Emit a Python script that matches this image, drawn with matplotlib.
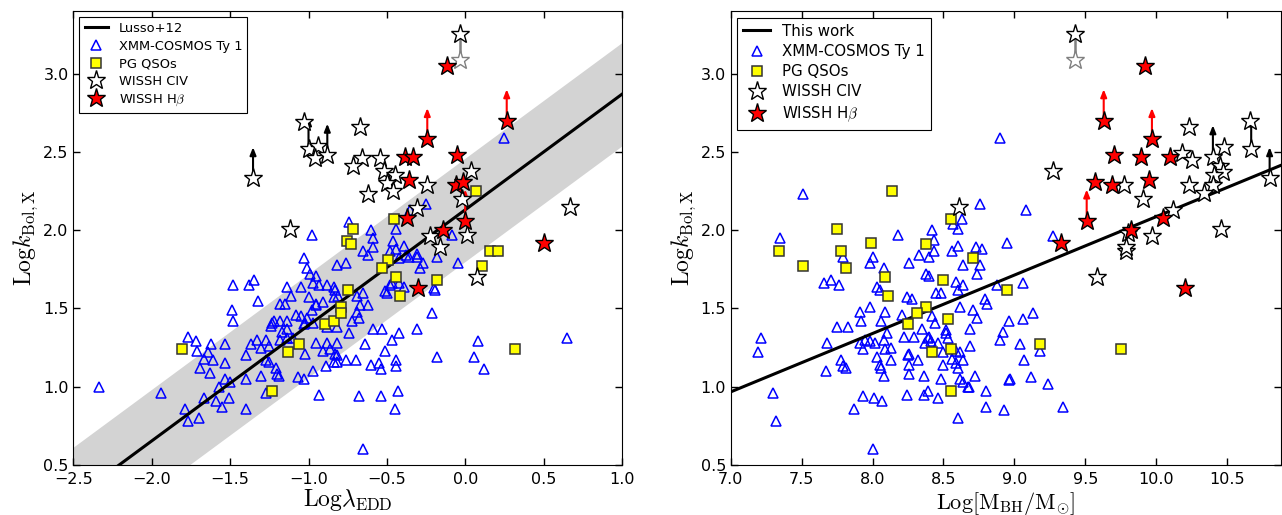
import numpy as np
import matplotlib
matplotlib.use("Agg")
import matplotlib.pyplot as plt

plt.rcParams['mathtext.fontset'] = 'cm'

# ---------------- left panel: Log lambda_EDD ----------------
cosmos_ledd = [-2.34, -1.94, -1.79, -1.77, -1.70, -1.77, -1.72, -1.71, -1.67, -1.69,
               -1.63, -1.62, -1.64, -1.61, -1.67, -1.59, -1.55, -1.57, -1.51, -1.53,
               -1.53, -1.53, -1.50, -1.49, -1.48, -1.48, -1.40, -1.40, -1.40, -1.37,
               -1.38, -1.35, -1.32, -1.33, -1.30, -1.27, -1.30, -1.27, -1.25, -1.25,
               -1.23, -1.21, -1.20, -1.19, -1.18, -1.17, -1.15, -1.14, -1.14, -1.14,
               -1.18, -1.10, -1.08, -1.07, -1.05, -1.03, -1.02, -1.02, -1.01, -1.00,
               -1.03, -1.01, -0.99, -0.95, -0.97, -0.98, -0.95, -0.91, -0.97, -0.95,
               -0.91, -0.89, -0.93, -0.88, -0.82, -0.88, -0.82, -0.86, -0.84, -0.83,
               -0.82, -0.84, -0.88, -0.82, -0.82, -0.76, -0.76,
               -0.81, -0.65, -0.50, -0.19, -0.67, -0.62, -0.69, -0.68, -0.72, -0.74,
               -0.83, -0.84, -0.70, -0.60, -0.55, -0.54, -0.44, -0.44, -0.64, -0.51,
               -0.47, -0.42, -0.59, -0.53, -0.31, -0.21, -0.18, -0.68, -0.54, -0.43,
               -0.45, -0.044, -0.20, 0.084, 0.056, 0.12, 0.65, -0.65, -0.27, -0.31,
               -0.42, -0.39, -0.47, -0.51, -0.69, -0.086, -0.25, -0.44, -0.60, -0.59,
               -0.74, -0.46, -0.39, -0.65, -0.59, -0.62, -0.48, -0.44, -0.38, -0.36,
               -0.31, -0.42, -0.18, -0.29, -0.48, -0.98, -0.93, -1.11, -0.95, -1.22,
               -1.18, -1.14, -1.24, -1.05, -1.03, -0.97, 0.25, -0.35, -1.27]
cosmos_kbol_l = [1.00, 0.96, 0.86, 0.78, 0.80, 1.32, 1.29, 1.23, 1.18, 1.12,
                 1.09, 1.27, 1.22, 1.17, 0.93, 0.91, 0.87, 1.00, 0.93, 1.27,
                 1.15, 1.05, 1.03, 1.49, 1.42, 1.65, 0.86, 1.05, 1.20, 1.27,
                 1.65, 1.68, 1.55, 1.30, 1.25, 1.30, 1.07, 0.96, 1.26, 1.16,
                 1.41, 1.12, 1.08, 1.07, 1.30, 1.35, 1.53, 1.64, 1.37, 1.31,
                 1.53, 1.31, 1.46, 1.06, 1.64, 1.05, 1.21, 1.41, 1.44, 1.57,
                 1.82, 1.76, 1.72, 1.71, 1.66, 1.49, 1.53, 1.54, 1.10, 1.28,
                 1.23, 1.13, 0.95, 1.28, 1.28, 1.38, 1.38, 1.24, 1.64, 1.62,
                 1.78, 1.57, 1.65, 1.20, 1.16, 1.17, 1.79,
                 1.58, 1.60, 1.60, 1.62, 1.52, 1.52, 1.48, 1.44, 1.42, 1.34,
                 1.21, 1.16, 1.17, 1.14, 1.15, 1.11, 1.17, 1.13, 1.27, 1.23,
                 1.30, 1.34, 1.37, 1.37, 1.37, 1.47, 1.19, 0.94, 0.94, 0.97,
                 0.86, 1.79, 1.63, 1.29, 1.19, 1.11, 1.31, 0.60, 1.79, 1.85,
                 1.66, 1.64, 1.66, 1.61, 1.58, 1.97, 2.17, 2.01, 2.00, 1.95,
                 2.05, 1.93, 1.90, 1.87, 1.89, 1.84, 1.87, 1.88, 1.84, 1.83,
                 1.83, 1.82, 1.83, 1.76, 1.65, 1.97, 1.65, 1.58, 1.52, 1.42,
                 1.42, 1.42, 1.39, 1.45, 1.40, 1.41, 2.59, 2.13, 1.17]

pg_ledd = [-1.81, -1.235, -1.13, -1.06, -0.895, -0.84, -0.794, -0.794, -0.745, -0.454,
           -0.714, -0.752, -0.73, -0.49, -0.53, -0.44, -0.177, -0.416, 0.07, 0.159,
           0.21, 0.11, 0.318]
pg_kbol_l = [1.24, 0.97, 1.22, 1.27, 1.40, 1.42, 1.51, 1.47, 1.62, 2.07,
             2.01, 1.93, 1.91, 1.81, 1.76, 1.70, 1.68, 1.58, 2.25, 1.87,
             1.87, 1.77, 1.244]

civ_ledd = [-1.354, -1.12, -1.03, -1.00, -0.94, -0.96, -0.88, -0.67, -0.66, -0.716,
            -0.543, -0.52, -0.45, -0.50, -0.46, -0.62, -0.245, -0.31, 0.04, -0.02,
            -0.225, -0.16, 0.01, 0.67, -0.033, 0.074]
civ_kbol_l = [2.33, 2.01, 2.69, 2.52, 2.54, 2.46, 2.48, 2.66, 2.46, 2.41,
              2.46, 2.38, 2.35, 2.30, 2.25, 2.23, 2.29, 2.14, 2.38, 2.20,
              1.96, 1.89, 1.97, 2.15, 3.25, 1.70]
civ_lim_l = [1, 0, 0, 1, 0, 0, 1, 0, 0, 0,
             0, 0, 0, 0, 0, 0, 0, 0, 0, 0,
             0, 0, 0, 0, 0, 0]

hb_ledd = [-0.118, -0.242, 0.265, -0.054, -0.384, -0.33, -0.36, -0.058, -0.012, 0.0,
           -0.373, -0.14, 0.50, -0.30]
hb_kbol_l = [3.05, 2.58, 2.70, 2.48, 2.47, 2.47, 2.32, 2.29, 2.31, 2.06,
             2.08, 2.00, 1.92, 1.63]
hb_lim_l = [0, 1, 1, 0, 0, 0, 0, 0, 0, 1,
            0, 0, 0, 0]

# previous estimate for the same CIV source (grey)
old_ledd = [-0.033]
old_kbol_l = [3.09]

lusso_slope, lusso_icpt, lusso_scatter = 0.738, 2.13, 0.33

# ---------------- right panel: Log M_BH ----------------
cosmos_mbh = [8.90, 7.51, 8.76, 7.35, 8.18, 8.42, 8.43, 8.63, 8.57, 8.60,
              8.95, 8.43, 8.60, 8.73, 8.77, 8.56, 8.33, 8.00, 7.79, 7.21,
              7.19, 7.30, 7.32, 7.68, 7.67, 7.71, 7.76, 7.66, 7.75, 7.83,
              7.78, 7.79, 7.81, 7.87, 7.93, 8.01, 8.07, 8.00, 7.91, 7.92,
              7.98, 7.91, 7.93, 7.95, 7.98, 8.02, 8.03, 8.05, 8.08, 7.98,
              8.06, 8.09, 8.10, 8.08, 8.03, 8.05, 8.06, 8.08, 8.09, 8.13,
              8.13, 8.24, 8.28, 8.21, 8.22, 8.24, 8.25, 8.26, 8.26, 8.26,
              8.29, 8.32, 8.26, 8.35, 8.39, 8.40, 8.37, 8.41, 8.38, 8.40,
              8.42, 8.44, 8.45, 8.48, 8.46, 8.50, 8.50, 8.48, 8.36, 8.39,
              8.36, 8.46, 8.52, 8.52, 8.53, 8.56, 8.59, 8.60, 8.59, 8.62,
              8.64, 8.62, 8.64, 8.67, 8.59, 8.60, 8.64, 8.62, 8.60, 8.69,
              8.71, 8.74, 8.69, 8.72, 8.68, 8.74, 8.76, 8.79, 8.81, 8.80,
              8.80, 8.88, 8.90, 8.92, 8.93, 8.96, 8.96, 8.64, 8.40, 9.06,
              9.06, 9.13, 9.04, 9.18, 9.07, 8.97, 9.12, 9.24, 9.34, 9.08,
              9.27]
cosmos_kbol_r = [2.59, 2.23, 2.17, 1.95, 1.97, 2.00, 1.94, 2.07, 2.04, 2.01,
                 1.92, 1.87, 1.90, 1.89, 1.88, 1.87, 1.84, 1.83, 1.83, 1.31,
                 1.22, 0.96, 0.78, 1.28, 1.10, 1.68, 1.65, 1.66, 1.38, 1.38,
                 1.17, 1.13, 1.12, 0.86, 0.94, 0.93, 0.91, 0.60, 1.48, 1.42,
                 1.51, 1.28, 1.24, 1.30, 1.29, 1.28, 1.64, 1.62, 1.76, 1.79,
                 1.42, 1.48, 1.34, 1.30, 1.19, 1.14, 1.12, 1.07, 1.24, 1.25,
                 1.17, 1.57, 1.56, 1.46, 1.32, 0.95, 1.20, 1.21, 1.14, 1.08,
                 1.32, 1.17, 1.79, 1.37, 1.31, 1.32, 1.28, 1.29, 1.72, 1.71,
                 1.45, 1.41, 1.60, 1.60, 1.28, 1.22, 1.14, 1.05, 1.07, 0.97,
                 0.95, 0.93, 1.36, 1.34, 1.31, 1.18, 1.15, 1.12, 1.23, 1.22,
                 1.17, 1.05, 1.03, 1.00, 1.67, 1.62, 1.65, 1.51, 0.80, 1.26,
                 1.49, 1.44, 1.37, 1.07, 1.00, 1.72, 1.78, 1.56, 1.53, 0.97,
                 0.87, 1.65, 1.30, 1.35, 0.85, 1.42, 1.04, 1.78, 1.83, 1.66,
                 1.43, 1.47, 1.27, 1.23, 1.17, 1.05, 1.06, 1.02, 0.87, 2.13,
                 1.96]

pg_mbh = [8.14, 7.75, 7.34, 7.78, 7.99, 8.38, 8.55, 8.71, 7.51, 7.81,
          8.09, 8.11, 8.50, 8.38, 8.31, 8.25, 8.53, 8.42, 8.55, 8.55,
          8.95, 9.18, 9.75]
pg_kbol_r = [2.25, 2.01, 1.87, 1.87, 1.92, 1.91, 2.07, 1.82, 1.77, 1.76,
             1.70, 1.58, 1.68, 1.51, 1.47, 1.40, 1.43, 1.22, 1.24, 0.97,
             1.62, 1.27, 1.24]

civ_mbh = [9.43, 8.61, 9.58, 9.79, 9.27, 9.77, 9.91, 10.12, 10.23, 10.18,
           10.25, 10.40, 10.48, 10.45, 10.47, 10.41, 10.40, 10.34, 10.23, 10.66,
           10.67, 10.80, 10.46, 9.97, 9.79, 9.80]
civ_kbol_r = [3.25, 2.15, 1.70, 1.87, 2.38, 2.29, 2.20, 2.13, 2.66, 2.49,
              2.45, 2.47, 2.53, 2.41, 2.37, 2.35, 2.29, 2.24, 2.29, 2.70,
              2.52, 2.33, 2.01, 1.96, 1.89, 1.98]
civ_lim_r = [0, 0, 0, 0, 0, 0, 0, 0, 0, 0,
             0, 1, 0, 0, 0, 0, 0, 0, 0, 0,
             1, 1, 0, 0, 0, 0]

hb_mbh = [9.92, 9.63, 9.97, 9.70, 9.89, 10.10, 9.57, 9.69, 9.95, 9.51,
          9.82, 10.05, 9.33, 10.20]
hb_kbol_r = [3.05, 2.70, 2.58, 2.48, 2.47, 2.47, 2.31, 2.29, 2.32, 2.06,
             2.00, 2.08, 1.92, 1.63]
hb_lim_r = [0, 1, 1, 0, 0, 0, 0, 0, 0, 1,
            0, 0, 0, 0]

old_mbh = [9.43]
old_kbol_r = [3.09]

work_slope, work_icpt = 0.373, -1.644

ARROW = 0.2


def draw_arrows(ax, xs, ys, lims, color):
    for x, y, lim in zip(xs, ys, lims):
        if lim:
            ax.annotate('', xy=(x, y + ARROW), xytext=(x, y),
                        arrowprops=dict(arrowstyle='-|>,head_width=0.18,head_length=0.45',
                                        color=color, lw=1.5, shrinkA=0, shrinkB=0),
                        zorder=3)


def panel(ax, cx, cy, px, py, sx, sy, slim, hx, hy, hlim, ox, oy,
          slope, icpt, line_label, xlim, leg_size, band=None):
    xx = np.array(xlim)
    if band is not None:
        ax.fill_between(xx, slope * xx + icpt - band, slope * xx + icpt + band,
                        color='#d3d3d3', lw=0, zorder=0)
    ax.plot(xx, slope * xx + icpt, 'k-', lw=2.2, zorder=2, label=line_label)
    ax.plot(cx, cy, ls='none', marker='^', ms=6.5, mfc='none', mec='b', mew=1.1,
            zorder=1, label='XMM-COSMOS Ty 1')
    ax.plot(px, py, ls='none', marker='s', ms=7, mfc='yellow', mec='0.2', mew=1.1,
            zorder=3, label='PG QSOs')
    # grey previous estimate linked to the new one
    for x0, y0 in zip(ox, oy):
        j = int(np.argmin(np.abs(np.array(sx) - x0) + np.abs(np.array(sy) - y0)))
        ax.plot([x0, sx[j]], [y0, sy[j]], color='gray', lw=1.8, zorder=3)
    ax.plot(ox, oy, ls='none', marker='*', ms=14, mfc='white', mec='gray', mew=1.0,
            zorder=3.5)
    draw_arrows(ax, sx, sy, slim, 'k')
    draw_arrows(ax, hx, hy, hlim, 'r')
    ax.plot(sx, sy, ls='none', marker='*', ms=14, mfc='white', mec='k', mew=1.0,
            zorder=4, label='WISSH CIV')
    ax.plot(hx, hy, ls='none', marker='*', ms=14, mfc='red', mec='k', mew=1.0,
            zorder=4, label=r'WISSH H$\beta$')

    ax.set_xlim(xlim)
    ax.set_ylim(0.5, 3.4)
    ax.set_yticks(np.arange(0.5, 3.01, 0.5))
    ax.tick_params(direction='in', top=True, right=True, length=5, width=1,
                   labelsize=11.5)
    ax.tick_params(axis='x', pad=5)
    ax.set_ylabel(r'${\rm Log}k_{\rm Bol,X}$', fontsize=17, labelpad=2)
    leg = ax.legend(loc='upper left', numpoints=1, fontsize=leg_size,
                    handlelength=1.8, labelspacing=0.35, borderaxespad=0.45,
                    fancybox=False, edgecolor='k', framealpha=1)
    leg.get_frame().set_linewidth(0.8)


fig = plt.figure(figsize=(12.82, 5.15), dpi=100)
ax1 = fig.add_axes([0.0573, 0.0971, 0.4278, 0.8816])
ax2 = fig.add_axes([0.5700, 0.0971, 0.4292, 0.8816])

panel(ax1, cosmos_ledd, cosmos_kbol_l, pg_ledd, pg_kbol_l,
      civ_ledd, civ_kbol_l, civ_lim_l, hb_ledd, hb_kbol_l, hb_lim_l,
      old_ledd, old_kbol_l, lusso_slope, lusso_icpt, 'Lusso+12',
      (-2.5, 1.0), 9.4, band=lusso_scatter)
ax1.set_xticks(np.arange(-2.5, 1.01, 0.5))
ax1.set_xlabel(r'${\rm Log}\lambda_{\rm EDD}$', fontsize=17, labelpad=0)

panel(ax2, cosmos_mbh, cosmos_kbol_r, pg_mbh, pg_kbol_r,
      civ_mbh, civ_kbol_r, civ_lim_r, hb_mbh, hb_kbol_r, hb_lim_r,
      old_mbh, old_kbol_r, work_slope, work_icpt, 'This work',
      (7.0, 10.88), 10.8)
ax2.set_xticks(np.arange(7.0, 10.51, 0.5))
ax2.set_xlabel(r'${\rm Log}\left[{\rm M_{BH}/M_{\odot}}\right]$', fontsize=16, labelpad=2)

fig.savefig('out.png', dpi=100)
